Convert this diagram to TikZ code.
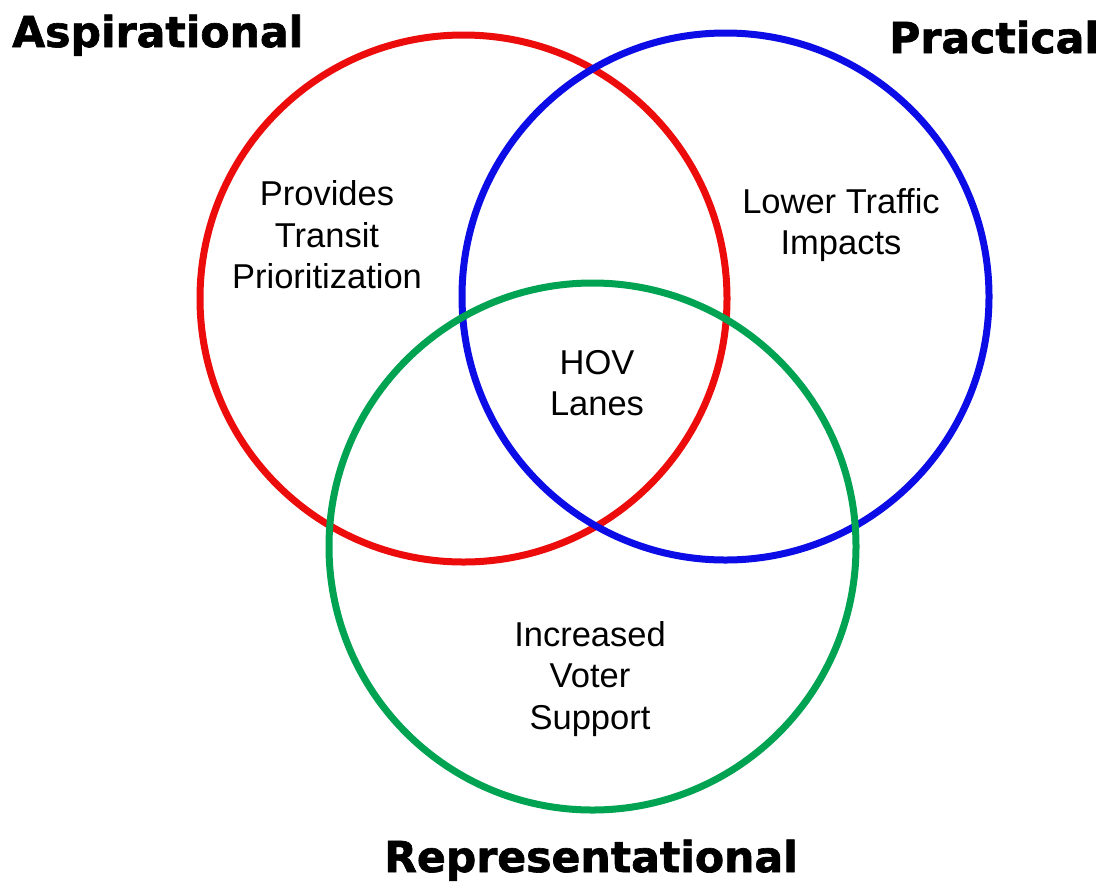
\documentclass[tikz,border=0pt]{standalone}
\usepackage{fontspec}
\setmainfont{Liberation Sans}
\newfontfamily\titlefont{DejaVu Sans}[BoldFont={DejaVu Sans Bold},BoldFeatures={FakeBold=1.5}]
\definecolor{cred}{RGB}{236,12,12}
\definecolor{cblue}{RGB}{12,12,230}
\definecolor{cgreen}{RGB}{0,163,82}
\begin{document}
\begin{tikzpicture}[x=1pt,y=-1pt,
  ring/.style={line width=7pt},
  title/.style={inner sep=0pt,font=\titlefont\bfseries\fontsize{42.6}{48}\selectfont},
  lbl/.style={align=center,inner sep=0pt,font=\fontsize{34.5}{41.5}\selectfont}]
\useasboundingbox (0,0) rectangle (1110,884);
\fill[white] (0,0) rectangle (1110,884);
\draw[ring,cred] (463.5,298.5) circle[radius=263.5];
\draw[ring,cblue] (725.5,296.5) circle[radius=263.5];
\draw[ring,cgreen] (592.5,546.5) circle[radius=263.5];
\node[title,anchor=base west] (asp) at (12,47) {Aspirational};
\node[title,anchor=base west] (pra) at (889,53) {Practical};
\node[title,anchor=base] (rep) at (591,872) {Representational};
\node[lbl] (ptp) at (327,235) {Provides\\Transit\\Prioritization};
\node[lbl] (lti) at (841,225) {Lower Traffic\\Impacts};
\node[lbl] (hov) at (597,383) {HOV\\Lanes};
\node[lbl] (ivs) at (590,679) {Increased\\Voter\\Support};
\end{tikzpicture}
\end{document}
